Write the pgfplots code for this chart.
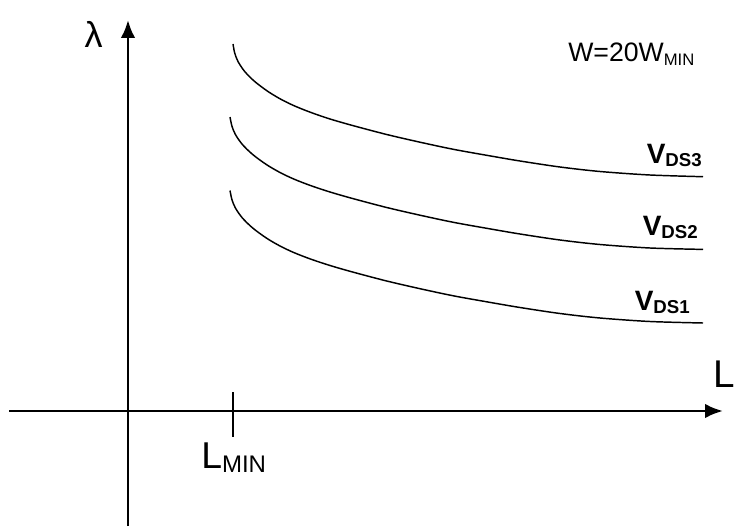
\documentclass[border=0pt]{standalone}
\usepackage{fontspec}
\setmainfont{Liberation Sans}
\usepackage{pgfplots}
\pgfplotsset{compat=1.18}
\usetikzlibrary{arrows.meta}

% Channel-length modulation lambda versus channel length L, for three drain voltages
\pgfplotstableread{
L lam
105 367
106.7 358
110 349.5
116.7 339.5
126.7 329.5
140 319.5
153.3 311.5
166.7 305
183 298.5
202 292
225.3 285.3
258.7 276.5
292 268.8
325.3 261.7
358.7 255.7
392 250
432 244
472 239.5
522 236
575 234.3
}\vdsthree
\pgfplotstableread{
L lam
102 294
103.9 285
107.4 276.5
114.4 266.5
124.7 256.5
138.3 246.5
152 238.5
165.7 232
182.4 225.5
202 219
225.3 212.3
258.7 203.5
292 195.8
325.3 188.7
358.7 182.7
392 177
432 171
472 166.5
522 163
575 161.6
}\vdstwo
\pgfplotstableread{
L lam
102 220.5
103.9 211.5
107.4 203
114.4 193
124.7 183
138.3 173
152 165
165.7 158.5
182.4 152
202 145.5
225.3 138.8
258.7 130
292 122.3
325.3 115.2
358.7 109.2
392 103.5
432 97.5
472 93
522 89.5
575 88
}\vdsone

\newcommand{\fs}[1]{\fontsize{#1}{#1}\selectfont}

\begin{document}
\begin{tikzpicture}
\begin{axis}[
  scale only axis,
  width=551.25pt, height=394.5pt,
  xmin=-128, xmax=607, ymin=-115, ymax=411,
  hide axis, clip=false,
]
% axes with arrow heads
\draw[line width=2.2pt, -{Latex[length=13.5pt,width=11pt]}]
  (axis cs:-119,0) -- (axis cs:595,0);
\draw[line width=2.2pt, -{Latex[length=13.5pt,width=11pt]}]
  (axis cs:0,-115) -- (axis cs:0,391);
% minimum length tick
\draw[line width=2.2pt] (axis cs:105,19) -- (axis cs:105,-26);

\addplot[black, line width=1.1pt, smooth, no marks] table[x=L, y=lam] {\vdsthree};
\addplot[black, line width=1.1pt, smooth, no marks] table[x=L, y=lam] {\vdstwo};
\addplot[black, line width=1.1pt, smooth, no marks] table[x=L, y=lam] {\vdsone};

% labels
\node[anchor=center, inner sep=0pt] at (axis cs:-34.5,376.5) {\fs{27pt}λ};
\node[anchor=base west, inner sep=0pt] at (axis cs:585,24) {\fs{29pt}L};
\node[anchor=base west, inner sep=0pt] at (axis cs:73,-57)
  {\fs{28pt}L\raisebox{-3pt}{\fs{18pt}MIN}};
\node[anchor=base west, inner sep=0pt] at (axis cs:440,349)
  {\fs{20pt}W=20W\raisebox{-2.5pt}{\fs{12.5pt}MIN}};
\node[anchor=base east, inner sep=0pt] at (axis cs:574,248)
  {\bfseries\fs{21pt}V\raisebox{-2.5pt}{\fs{14pt}DS3}};
\node[anchor=base east, inner sep=0pt] at (axis cs:570,176)
  {\bfseries\fs{21pt}V\raisebox{-2.5pt}{\fs{14pt}DS2}};
\node[anchor=base east, inner sep=0pt] at (axis cs:562,101)
  {\bfseries\fs{21pt}V\raisebox{-2.5pt}{\fs{14pt}DS1}};
\end{axis}
\pgfresetboundingbox
\useasboundingbox (current axis.south west) rectangle (current axis.north east);
\end{tikzpicture}
\end{document}
